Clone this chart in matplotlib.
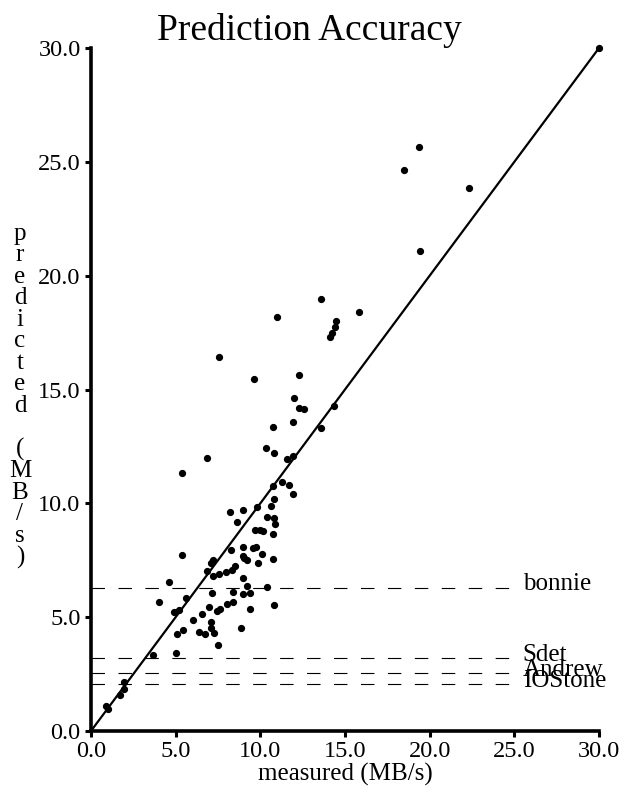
import matplotlib
matplotlib.use("Agg")
import matplotlib.pyplot as plt

plt.rcParams['font.family'] = ['Liberation Serif', 'DejaVu Serif']
plt.rcParams['lines.scale_dashes'] = False

# measured vs predicted throughput (MB/s)
measured = [30.0, 22.33, 19.36, 18.47, 19.42, 10.99, 13.59, 15.81, 14.47, 14.41,
            14.22, 14.10, 7.56, 9.63, 12.29, 11.97, 12.29, 12.58, 11.93, 13.57,
            14.37, 10.77, 6.83, 5.39, 10.34, 10.79, 11.58, 11.95, 11.30, 11.70,
            11.95, 10.77, 10.83, 10.63, 9.79, 9.00, 8.23, 8.62, 10.38, 10.79,
            10.89, 9.67, 10.00, 10.18, 10.77, 5.36, 8.96, 9.55, 9.75, 8.27,
            10.08, 8.96, 9.04, 9.23, 10.77, 9.88, 7.19, 7.09, 6.87, 8.49,
            8.31, 7.96, 7.58, 7.19, 8.96, 4.62, 9.20, 10.41, 7.16, 8.37,
            9.00, 9.41, 5.63, 10.83, 4.00, 4.88, 5.22, 6.04, 6.56, 6.99,
            7.46, 7.64, 8.02, 8.39, 9.41, 5.08, 5.45, 6.40, 6.73, 7.07,
            7.07, 7.25, 7.52, 8.88, 3.64, 5.02, 1.95, 1.71, 1.97, 0.87, 1.02]
predicted = [30.0, 23.86, 25.65, 24.66, 21.09, 18.18, 18.97, 18.40, 18.01, 17.76,
             17.50, 17.30, 16.45, 15.45, 15.65, 14.62, 14.19, 14.13, 13.56, 13.31,
             14.28, 13.37, 12.01, 11.32, 12.45, 12.20, 11.95, 12.08, 10.94, 10.82,
             10.43, 10.75, 10.18, 9.89, 9.83, 9.71, 9.62, 9.18, 9.42, 9.35,
             9.08, 8.82, 8.82, 8.80, 8.64, 7.73, 8.07, 8.03, 8.10, 7.94,
             7.78, 7.69, 7.61, 7.51, 7.57, 7.37, 7.51, 7.37, 7.04, 7.25,
             7.06, 6.99, 6.90, 6.82, 6.72, 6.56, 6.37, 6.31, 6.05, 6.09,
             6.03, 6.08, 5.84, 5.55, 5.67, 5.24, 5.32, 4.86, 5.15, 5.43,
             5.29, 5.36, 5.57, 5.68, 5.37, 4.25, 4.45, 4.36, 4.27, 4.80,
             4.51, 4.31, 3.78, 4.54, 3.34, 3.41, 2.14, 1.57, 1.83, 1.11, 0.98]

# benchmark reference levels
bench_names = ['bonnie', 'Sdet', 'Andrew', 'IOStone']
bench_levels = [6.3, 3.2, 2.55, 2.05]

ticks = [0, 5, 10, 15, 20, 25, 30]

fig = plt.figure(figsize=(6.24, 8.01), dpi=100)
ax = fig.add_axes([0.1458, 0.0874, 0.8141, 0.8526])

ax.plot([0, 30], [0, 30], color='black', lw=1.6, clip_on=False)
for name, lvl in zip(bench_names, bench_levels):
    ax.plot([0, 24.9], [lvl, lvl], color='black', lw=0.8, dashes=(9.7, 9.7))
    ax.text(25.5, lvl - 0.12, name, fontsize=18, va='baseline', ha='left')

ax.plot(measured, predicted, 'o', color='black', markersize=4.2, clip_on=False)

ax.set_xlim(0, 30)
ax.set_ylim(0, 30)
ax.set_xticks(ticks)
ax.set_yticks(ticks)
ax.set_xticklabels(['%.1f' % t for t in ticks], fontsize=17.5)
ax.set_yticklabels(['%.1f' % t for t in ticks], fontsize=17.5)
ax.tick_params(direction='out', length=4.5, width=2.2, pad=3)
for s in ['top', 'right']:
    ax.spines[s].set_visible(False)
for s in ['left', 'bottom']:
    ax.spines[s].set_linewidth(2.6)

ax.set_xlabel('measured (MB/s)', fontsize=18, labelpad=0)

ylab = '\n'.join(list('predicted') + [' '] + list('(MB/s)'))
fig.text(0.032, 0.5056, ylab, fontsize=18, ha='center', va='center',
         linespacing=0.97)

fig.text(0.495, 1 - 40 / 801, 'Prediction Accuracy', fontsize=27,
         ha='center', va='baseline')

fig.savefig('out.png', dpi=100)
